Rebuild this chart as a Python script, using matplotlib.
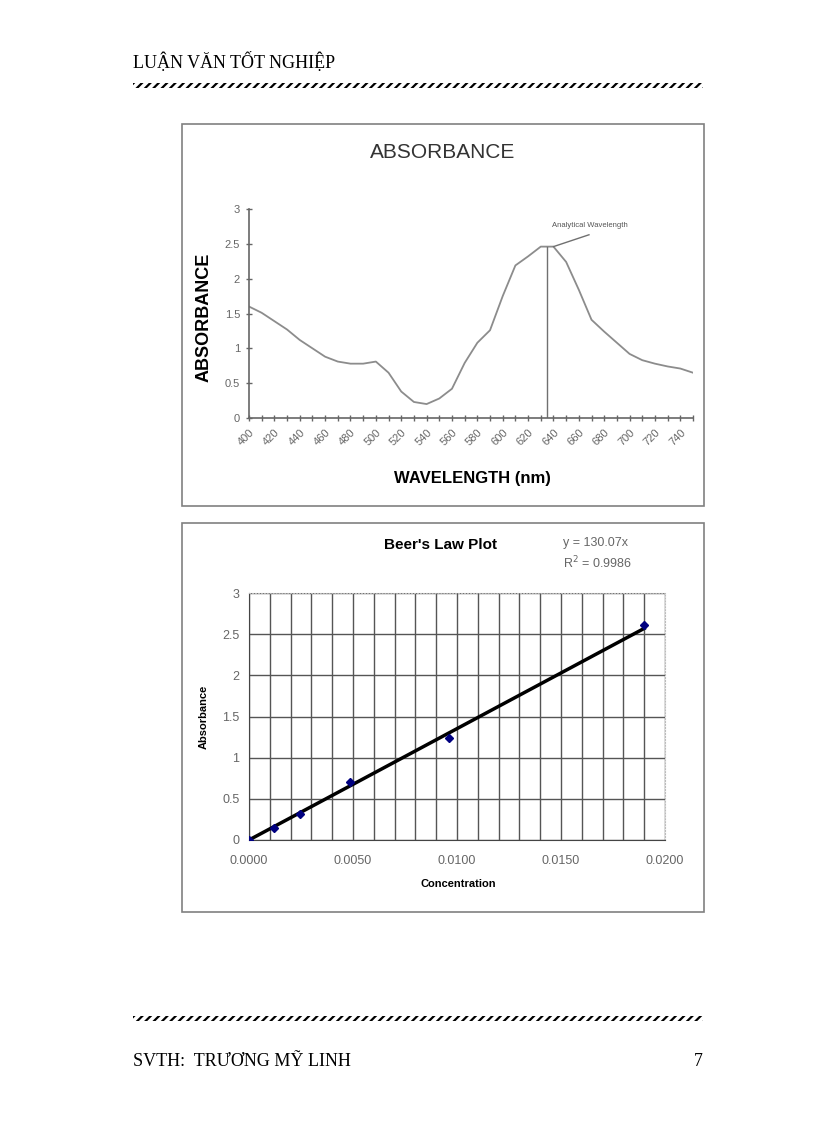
import matplotlib.pyplot as plt
from matplotlib.patches import Rectangle

# absorbance spectrum
wavelength = [400, 410, 420, 430, 440, 450, 460, 470, 480, 490, 500, 510, 520, 530,
              540, 550, 560, 570, 580, 590, 600, 610, 620, 630, 640, 650, 660, 670,
              680, 690, 700, 710, 720, 730, 740, 750]
absorbance = [1.60, 1.51, 1.39, 1.27, 1.12, 1.00, 0.88, 0.81, 0.78, 0.78, 0.81, 0.65,
              0.38, 0.23, 0.20, 0.28, 0.42, 0.79, 1.08, 1.26, 1.75, 2.19, 2.32, 2.46,
              2.46, 2.24, 1.84, 1.41, 1.24, 1.08, 0.92, 0.83, 0.78, 0.74, 0.71, 0.65]
wl_ticks = list(range(400, 751, 10))
wl_labels = list(range(400, 750, 20))
abs_ticks = [0, 0.5, 1, 1.5, 2, 2.5, 3]
abs_labels = ['0', '0.5', '1', '1.5', '2', '2.5', '3']
peak_wl = 635
peak_abs = 2.46

# Beer's law data
concentration = [0.0, 0.00120, 0.00245, 0.00485, 0.00960, 0.0190]
beer_abs = [0.0, 0.15, 0.32, 0.71, 1.24, 2.61]
trend_x = [0.0, 0.0190]
trend_y = [0.0, 2.57]
conc_ticks = [0.0, 0.005, 0.010, 0.015, 0.020]
conc_labels = ['0.0000', '0.0050', '0.0100', '0.0150', '0.0200']
conc_grid = [i / 1000 for i in range(21)]
equation = "y = 130.07x"
r_squared = "R$^2$ = 0.9986"

W, H = 816, 1123
plt.rcParams['hatch.linewidth'] = 1.6
fig = plt.figure(figsize=(W / 100, H / 100), dpi=100)
serif = ['Liberation Serif', 'DejaVu Serif']
sans = ['Liberation Sans', 'DejaVu Sans']


def fx(px):
    return px / W


def fy(py):
    return 1 - py / H


def hatched_rule(y):
    fig.patches.append(Rectangle((fx(133), fy(y + 2.5)), fx(703) - fx(133), 5 / H,
                                 transform=fig.transFigure, facecolor='none',
                                 edgecolor='black', hatch='////', linewidth=0))


# page header / footer
fig.text(fx(133), fy(62), "LUẬN VĂN TỐT NGHIỆP", family=serif, fontsize=13,
         va='center', ha='left')
hatched_rule(85)
hatched_rule(1018)
fig.text(fx(133), fy(1062), "SVTH:  TRƯƠNG MỸ LINH", family=serif, fontsize=13,
         va='center', ha='left')
fig.text(fx(703), fy(1062), "7", family=serif, fontsize=13, va='center', ha='right')

# chart frames
for top, bottom in [(124, 506), (523, 912)]:
    fig.patches.append(Rectangle((fx(182), fy(bottom)), fx(704) - fx(182),
                                 (bottom - top) / H, transform=fig.transFigure,
                                 facecolor='none', edgecolor='#808080', linewidth=1.2,
                                 zorder=-1))

grey = '#666666'

# ---- top chart: absorbance spectrum
ax1 = fig.add_axes([fx(249), fy(418), fx(693) - fx(249), (418 - 209) / H])
ax1.patch.set_visible(False)
ax1.plot(wavelength, absorbance, color='#8c8c8c', linewidth=1.3)
ax1.plot([peak_wl, peak_wl], [0, peak_abs], color='#707070', linewidth=1)
ax1.plot([640, 668], [peak_abs, 2.63], color='#707070', linewidth=1)
ax1.text(639, 2.76, "Analytical Wavelength", family=sans, fontsize=5.5,
         color='#555555', va='center', ha='left')
ax1.set_xlim(400, 750)
ax1.set_ylim(0, 3)
ax1.set_xticks(wl_ticks)
ax1.set_xticklabels([str(v) if v in wl_labels else '' for v in wl_ticks],
                    rotation=45, ha='right', rotation_mode='anchor')
ax1.set_yticks(abs_ticks)
ax1.set_yticklabels(abs_labels)
ax1.tick_params(direction='inout', length=5, width=1, color=grey, labelcolor=grey,
                labelsize=8, pad=4)
for s in ['top', 'right']:
    ax1.spines[s].set_visible(False)
for s in ['left', 'bottom']:
    ax1.spines[s].set_color(grey)
    ax1.spines[s].set_linewidth(1.2)
for lab in ax1.get_xticklabels() + ax1.get_yticklabels():
    lab.set_family(sans)
fig.text(fx(443), fy(152), "ABSORBANCE", family=sans, fontsize=15, color='#333333',
         ha='center', va='center')
fig.text(fx(204), fy(317), "ABSORBANCE", family=sans, fontsize=13, fontweight='bold',
         rotation=90, ha='center', va='center')
fig.text(fx(472), fy(478), "WAVELENGTH (nm)", family=sans, fontsize=12,
         fontweight='bold', ha='center', va='center')

# ---- bottom chart: Beer's law plot
ax2 = fig.add_axes([fx(249), fy(840), fx(665) - fx(249), (840 - 593) / H])
ax2.patch.set_visible(False)
ax2.set_xlim(0, 0.02)
ax2.set_ylim(0, 3)
ax2.set_xticks(conc_grid, minor=True)
ax2.set_xticks(conc_ticks)
ax2.set_xticklabels(conc_labels)
ax2.set_yticks(abs_ticks)
ax2.set_yticklabels(abs_labels)
ax2.grid(True, which='both', axis='x', color='#555555', linewidth=1)
ax2.grid(True, which='major', axis='y', color='#555555', linewidth=1)
ax2.set_axisbelow(True)
ax2.plot(trend_x, trend_y, color='black', linewidth=2.5, zorder=3)
ax2.plot(concentration, beer_abs, linestyle='none', marker='D', markersize=4,
         color='#000080', zorder=4)
ax2.tick_params(which='both', length=0, labelcolor=grey, labelsize=9)
ax2.tick_params(axis='x', pad=11)
ax2.tick_params(axis='y', pad=7)
for s in ['top', 'right']:
    ax2.spines[s].set_color('#bbbbbb')
    ax2.spines[s].set_linestyle(':')
for s in ['left', 'bottom']:
    ax2.spines[s].set_color('#444444')
for lab in ax2.get_xticklabels() + ax2.get_yticklabels():
    lab.set_family(sans)
fig.text(fx(440), fy(545), "Beer's Law Plot", family=sans, fontsize=11,
         fontweight='bold', ha='center', va='center')
fig.text(fx(563), fy(543), equation, family=sans, fontsize=9, color=grey,
         ha='left', va='center')
fig.text(fx(563), fy(563), r_squared, family=sans, fontsize=9, color=grey,
         ha='left', va='center')
fig.text(fx(204), fy(717), "Absorbance", family=sans, fontsize=8, fontweight='bold',
         rotation=90, ha='center', va='center')
fig.text(fx(458), fy(884), "Concentration", family=sans, fontsize=8,
         fontweight='bold', ha='center', va='center')

fig.savefig('out.png', dpi=100)
